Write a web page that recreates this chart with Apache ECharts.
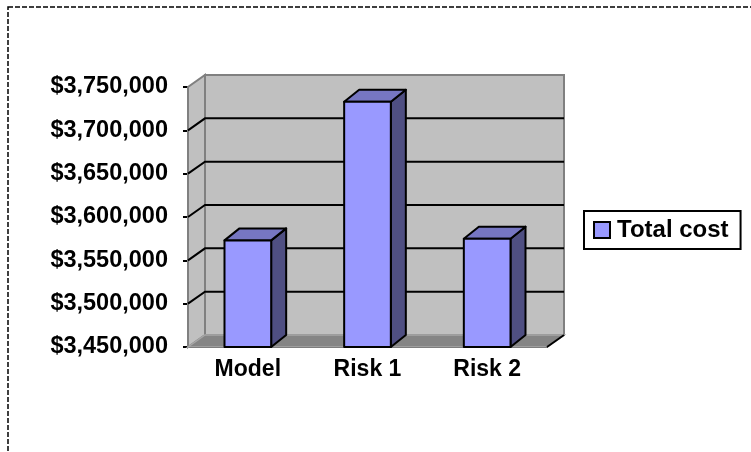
<!DOCTYPE html>
<html>
<head>
<meta charset="utf-8">
<script src="https://cdn.jsdelivr.net/npm/echarts@6/dist/echarts.min.js"></script>
<style>
  html, body { margin: 0; padding: 0; background: #fff; }
  #main { width: 751px; height: 452px; }
</style>
</head>
<body>
<div id="main"></div>
<script>
// chart data
var categories = ['Model', 'Risk 1', 'Risk 2'];
var totalCost = [3573000, 3733000, 3575000];
var yTicks = [3450000, 3500000, 3550000, 3600000, 3650000, 3700000, 3750000];

var FONT = "'Liberation Sans', Arial, sans-serif";
var wallDx = 17, wallDy = -12; // depth of the walls
var barDx = 15, barDy = -12;   // depth of the bars

function money(v) {
  return '$' + String(v).replace(/\B(?=(\d{3})+(?!\d))/g, ',');
}

var chart = echarts.init(document.getElementById('main'));

var option = {
  animation: false,
  backgroundColor: '#fff',
  graphic: [{
    type: 'rect',
    shape: { x: 8, y: 7, width: 800, height: 500 },
    style: { fill: 'none', stroke: '#000', lineWidth: 1.5, lineDash: [5, 2] },
    z: 100
  }],
  grid: { left: 188, top: 87, right: 204, bottom: 105, outerBoundsMode: 'none' },
  legend: {
    data: ['Total cost'],
    left: 584, top: 211,
    icon: 'rect',
    itemWidth: 16, itemHeight: 16,
    itemStyle: { borderColor: '#000', borderWidth: 2 },
    padding: [7, 12, 7, 9],
    borderColor: '#000', borderWidth: 2,
    textStyle: { fontFamily: FONT, fontWeight: 'bold', fontSize: 24, color: '#000', padding: [0, 0, 0, 2] }
  },
  xAxis: {
    type: 'category',
    data: categories,
    axisLine: { lineStyle: { color: '#000', width: 2 } },
    axisTick: { length: 6, lineStyle: { color: '#000', width: 2 } },
    axisLabel: { margin: 11, fontFamily: FONT, fontWeight: 'bold', fontSize: 23, color: '#000' },
    splitLine: { show: false }
  },
  yAxis: {
    type: 'value',
    min: yTicks[0],
    max: yTicks[yTicks.length - 1],
    interval: yTicks[1] - yTicks[0],
    axisLine: { show: true, lineStyle: { color: '#000', width: 2 } },
    axisTick: { show: true, length: 5, lineStyle: { color: '#000', width: 2 } },
    axisLabel: { margin: 20, fontFamily: FONT, fontWeight: 'bold', fontSize: 23.5, color: '#000', formatter: money },
    splitLine: { show: false }
  },
  series: [
    {
      // walls, floor and gridlines
      type: 'custom',
      name: 'walls',
      silent: true,
      z: 1,
      data: [[0, yTicks[0]]],
      renderItem: function (params, api) {
        var cs = params.coordSys;
        var x0 = cs.x, y0 = cs.y, x1 = cs.x + cs.width, y1 = cs.y + cs.height;
        var kids = [];
        kids.push({ type: 'rect', shape: { x: x0 + wallDx, y: y0 + wallDy, width: cs.width, height: cs.height },
          style: { fill: '#c0c0c0', stroke: '#808080', lineWidth: 2 } });
        kids.push({ type: 'polygon', shape: { points: [[x0, y1], [x0, y0], [x0 + wallDx, y0 + wallDy], [x0 + wallDx, y1 + wallDy]] },
          style: { fill: '#c0c0c0', stroke: '#808080', lineWidth: 2 } });
        kids.push({ type: 'polygon', shape: { points: [[x0, y1], [x1, y1], [x1 + wallDx, y1 + wallDy], [x0 + wallDx, y1 + wallDy]] },
          style: { fill: '#858585', stroke: '#a6a6a6', lineWidth: 1.5 } });
        for (var i = 1; i < yTicks.length - 1; i++) {
          var y = api.coord([0, yTicks[i]])[1];
          kids.push({ type: 'polyline', shape: { points: [[x0, y], [x0 + wallDx, y + wallDy], [x1 + wallDx, y + wallDy]] },
            style: { fill: null, stroke: '#000', lineWidth: 2 } });
        }
        kids.push({ type: 'line', shape: { x1: x1, y1: y1, x2: x1 + wallDx, y2: y1 + wallDy },
          style: { stroke: '#000', lineWidth: 2 } });
        return { type: 'group', children: kids };
      }
    },
    {
      type: 'custom',
      name: 'Total cost',
      z: 3,
      itemStyle: { color: '#9999ff' },
      data: totalCost.map(function (v, i) { return [i, v]; }),
      renderItem: function (params, api) {
        var base = api.coord([api.value(0), yTicks[0]]);
        var top = api.coord([api.value(0), api.value(1)]);
        var bw = api.size([1, 0])[0] * 0.39;
        var xa = top[0] - bw / 2, xb = top[0] + bw / 2;
        var line = { stroke: '#000', lineWidth: 2, lineJoin: 'round' };
        return {
          type: 'group',
          children: [
            { type: 'polygon', shape: { points: [[xb, top[1]], [xb + barDx, top[1] + barDy], [xb + barDx, base[1] + barDy], [xb, base[1]]] },
              style: Object.assign({ fill: '#4f4f82' }, line) },
            { type: 'polygon', shape: { points: [[xa, top[1]], [xa + barDx, top[1] + barDy], [xb + barDx, top[1] + barDy], [xb, top[1]]] },
              style: Object.assign({ fill: '#7676c2' }, line) },
            { type: 'rect', shape: { x: xa, y: top[1], width: bw, height: base[1] - top[1] },
              style: Object.assign({ fill: '#9999ff' }, line) }
          ]
        };
      }
    }
  ]
};

chart.setOption(option);
</script>
</body>
</html>
